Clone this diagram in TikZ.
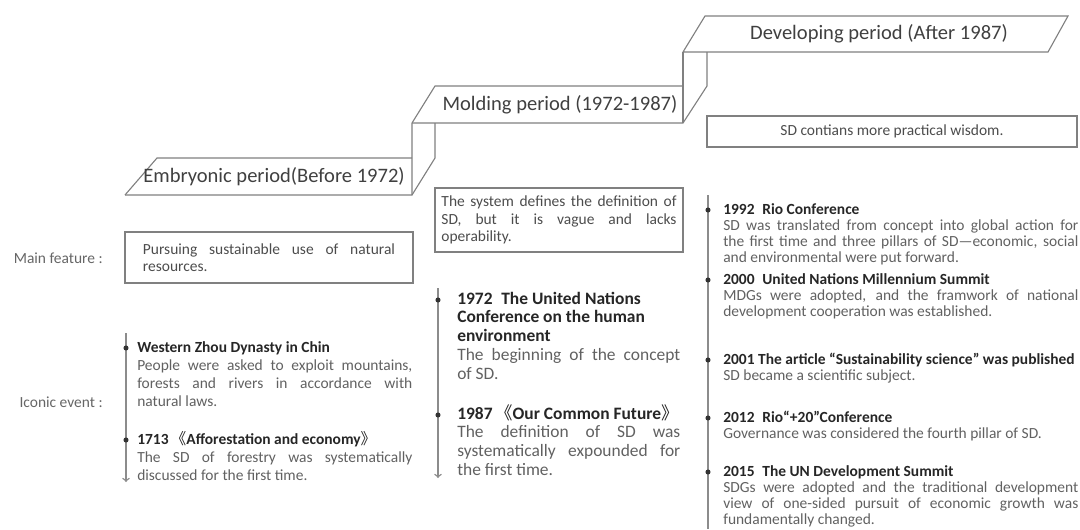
\documentclass[tikz,border=0pt]{standalone}
\usepackage{fontspec}
\setmainfont{Carlito}
\newfontfamily\cjk{Noto Sans CJK SC}
\usepackage{xcolor}
\usetikzlibrary{positioning}

\newcommand\evhead[1]{{\color{black!85}\bfseries #1}}
\newcommand\lbk{\hspace{-0.35em}{\mdseries\cjk 《}}
\newcommand\rbk{{\mdseries\cjk 》}\hspace{-0.35em}}

\begin{document}
\begin{tikzpicture}[x=0.025cm, y=-0.025cm, font=\fontsize{11}{12.5}\selectfont,
        stair/.style={draw=black!50, line width=0.8pt},
        period/.style={font=\fontsize{14.6}{16}\selectfont, text=black!75, inner sep=0pt},
        rowname/.style={text=black!60, anchor=east, inner sep=0pt},
        feature/.style={rectangle, draw=black!50, line width=0.8pt, text=black!70, align=justify, inner ysep=0pt},
        timeline/.style={draw=black!45, line width=1pt},
        dot/.style={circle, fill=black!80, inner sep=0pt, minimum size=3.6pt},
        event/.style={anchor=base west, inner sep=0pt, align=justify, text=black!62},
        oldevent/.style={event, text width=6.875cm, font=\fontsize{11}{12.8}\selectfont},
        midevent/.style={event, text width=5.575cm, font=\fontsize{12.4}{13.5}\selectfont},
        newevent/.style={event, text width=8.875cm, font=\fontsize{11}{11.4}\selectfont}
    ]
        \useasboundingbox (0,0) rectangle (1080,529);
        % staircase of the three periods
        \draw[stair] (125,195) -- (157,158) -- (412,158);
        \draw[stair] (125,195) -- (412,195) -- (435,158) -- (435,123);
        \draw[stair] (412,195) -- (412,123) -- (435,86) -- (683,86);
        \draw[stair] (412,123) -- (683,123) -- (707,86) -- (707,52);
        \draw[stair] (683,123) -- (683,52);
        \draw[stair] (683,52) -- (705,16) -- (1068,16) -- (1048,52) -- cycle;
        \node[period] (embryo) at (274,177) {Embryonic period(Before 1972)};
        \node[period] (molding) at (560,105) {Molding period (1972-1987)};
        \node[period] (develop) at (879,34) {Developing period (After 1987)};
        % main features
        \node[rowname] (mainlbl) at (103,258) {Main feature :};
        \node[rowname] (iconlbl) at (103,402) {Iconic event :};
        \node[feature, text width=6.3cm, inner xsep=0.45cm, minimum height=1.275cm] (feat1) at (269,257.5)
            {Pursuing sustainable use of natural\linebreak resources.};
        \node[feature, text width=5.875cm, inner xsep=0.1625cm, minimum height=1.6cm] (feat2) at (559,220)
            {The system defines the definition of\linebreak SD, but it is vague and lacks\linebreak operability.};
        \node[feature, align=center, minimum width=9.25cm, minimum height=0.775cm] (feat3) at (892,131.5)
            {SD contians more practical wisdom.};
        % timelines
        \coordinate (old top) at (126,333);
        \coordinate (old end) at (126,482);
        \coordinate (mid top) at (438,288);
        \coordinate (mid end) at (438,478);
        \coordinate (new top) at (708,195);
        \coordinate (new end) at (708,529);
        \draw[timeline, ->] (old top) -- (old end);
        \draw[timeline, ->] (mid top) -- (mid end);
        \draw[timeline] (new top) -- (new end);
        \foreach \y [count=\i] in {348,440} \node[dot] (olddot\i) at (126,\y) {};
        \foreach \y [count=\i] in {300,415} \node[dot] (middot\i) at (438,\y) {};
        \foreach \y [count=\i] in {210,280,360,418,472} \node[dot] (newdot\i) at (708,\y) {};
        % embryonic events
        \node[oldevent] (zhou) at (137,352)
            {\evhead{Western Zhou Dynasty in Chin}\\People were asked to exploit mountains,\linebreak forests and rivers in accordance with\linebreak natural laws.};
        \node[oldevent] (forest) at (137,444)
            {\evhead{\mbox{1713\enspace\lbk Afforestation and economy\rbk}}\\The SD of forestry was systematically\linebreak discussed for the first time.};
        % molding events
        \node[midevent] (unche) at (457,304)
            {\evhead{1972\enspace The United Nations\\Conference on the human\\environment}\\The beginning of the concept\linebreak of SD.};
        \node[midevent] (future) at (457,419)
            {\evhead{\mbox{1987\enspace\lbk Our Common Future\rbk}}\\The definition of SD was\linebreak systematically expounded for\linebreak the first time.};
        % developing events
        \node[newevent] (rio) at (723,214)
            {\evhead{1992\enspace Rio Conference}\\SD was translated from concept into global action for\linebreak the first time and three pillars of SD—economic, social\linebreak and environmental were put forward.};
        \node[newevent] (mill) at (723,284)
            {\evhead{2000\enspace United Nations Millennium Summit}\\MDGs were adopted, and the framwork of national\linebreak development cooperation was established.};
        \node[newevent] (sci) at (723,364)
            {\evhead{2001 The article “Sustainability science” was published}\\SD became a scientific subject.};
        \node[newevent] (rio20) at (723,422)
            {\evhead{2012\enspace Rio“+20”Conference}\\Governance was considered the fourth pillar of SD.};
        \node[newevent] (unds) at (723,476)
            {\evhead{2015\enspace The UN Development Summit}\\SDGs were adopted and the traditional development\linebreak view of one-sided pursuit of economic growth was\linebreak fundamentally changed.};
    \end{tikzpicture}
\end{document}
